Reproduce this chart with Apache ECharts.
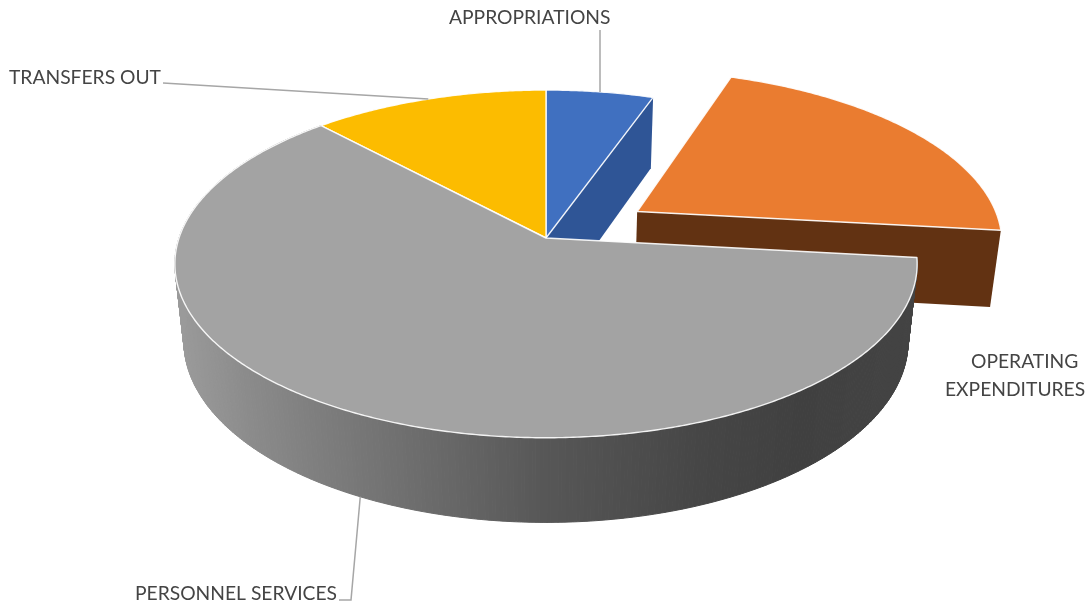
<!DOCTYPE html>
<html>
<head>
<meta charset="utf-8">
<style>html,body{margin:0;padding:0;background:#fff}#chart{width:1090px;height:605px}</style>
<script src="https://cdn.jsdelivr.net/npm/echarts@6/dist/echarts.min.js"></script>
</head>
<body>
<div id="chart"></div>
<script>
// ---- data (share of total, %) ----
const categories = ['APPROPRIATIONS', 'OPERATING\nEXPENDITURES', 'PERSONNEL SERVICES', 'TRANSFERS OUT'];
const shares = [5.4, 21.4, 61.3, 11.9];
const explode = [0, 0.3, 0, 0];

// ---- styles and layout ----
const topColors = ['#4070c0', '#ea7c30', '#a3a3a3', '#fcbc00'];
const wallColors = ['#2f5596', '#623212', null, null];
const paintRank = [1, 1, 3, 2];
const labelLines = [
  [[449, 18]],
  [[971, 362], [945, 390]],
  [[135, 594]],
  [[9, 78]]
];
const leaderRoutes = [
  [[600, 30]],
  null,
  [[339, 600], [351, 600]],
  [[163, 83]]
];
const leaderOnWall = [false, false, true, false];
const wallShade = [[175, 156], [250, 139], [360, 119], [546, 87], [700, 70], [800, 64], [917, 68]];

// perspective model of the pie's disc
const P = { cx: 546, cy: 238, ax: 367, ay: 170, k: 0.149, lift: 79, c: 0.0245 };
function upper(u, v) {
  const w = 1 + P.k * v;
  return [P.cx + P.ax * u / w, P.cy - P.ay * v / w];
}
function lower(u, v) {
  const w = 1 + P.k * v + P.c;
  return [P.cx + P.ax * u / w, P.cy + (P.lift - P.ay * v) / w];
}
function shadeAt(x) {
  for (let i = 1; i < wallShade.length; i++) {
    if (x <= wallShade[i][0]) {
      const a = wallShade[i - 1], b = wallShade[i];
      const g = Math.round(a[1] + (b[1] - a[1]) * (x - a[0]) / (b[0] - a[0]));
      return 'rgb(' + g + ',' + g + ',' + g + ')';
    }
  }
  return 'rgb(68,68,68)';
}

const total = shares.reduce((s, v) => s + v, 0);
const spans = [];
shares.reduce((acc, v, i) => {
  spans[i] = [acc / total * 2 * Math.PI, (acc + v) / total * 2 * Math.PI];
  return acc + v;
}, 0);

function renderItem(params, api) {
  const i = params.dataIndex;
  const a0 = spans[i][0], a1 = spans[i][1], mid = (a0 + a1) / 2;
  const dx = explode[i] * Math.sin(mid), dy = explode[i] * Math.cos(mid);
  const at = (fn, a, r) => fn(dx + (r === undefined ? 1 : r) * Math.sin(a), dy + (r === undefined ? 1 : r) * Math.cos(a));
  const z = paintRank[i] * 10;
  const children = [];
  const step = Math.PI / 360;
  const n = Math.ceil((a1 - a0) / step);

  // side walls
  if (wallColors[i]) {
    children.push({ type: 'polygon', z2: z, shape: { points: [at(upper, a1, 0), at(upper, a1), at(lower, a1), at(lower, a1, 0)] }, style: { fill: wallColors[i] } });
  }
  if (i === 2) {
    for (let s = 0; s < n; s++) {
      const b0 = a0 + (a1 - a0) * s / n, b1 = a0 + (a1 - a0) * (s + 1) / n;
      const p0 = at(upper, b0), p1 = at(upper, b1), q1 = at(lower, b1), q0 = at(lower, b0);
      const col = shadeAt((p0[0] + q0[0]) / 2);
      children.push({ type: 'polygon', z2: z, shape: { points: [p0, p1, q1, q0] }, style: { fill: col, stroke: col, lineWidth: 1 } });
    }
  }

  // top face
  const pts = [at(upper, a0, 0)];
  for (let s = 0; s <= n; s++) pts.push(at(upper, a0 + (a1 - a0) * s / n));
  children.push({
    type: 'polygon', z2: z + 1, shape: { points: pts },
    style: { fill: topColors[i], stroke: 'rgba(255,255,255,0.9)', lineWidth: 1.4, lineJoin: 'round' }
  });

  // leader line
  if (leaderRoutes[i]) {
    const end = at(leaderOnWall[i] ? lower : upper, mid);
    children.push({
      type: 'polyline', z2: 50,
      shape: { points: leaderRoutes[i].concat([end]) },
      style: { fill: null, stroke: '#a6a6a6', lineWidth: 1.5 }
    });
  }

  // label
  categories[i].split('\n').forEach((line, j) => {
    children.push({
      type: 'text', z2: 60,
      style: {
        text: line, x: labelLines[i][j][0], y: labelLines[i][j][1],
        fill: '#444444', font: '400 19.25px Lato, "Open Sans", sans-serif',
        textAlign: 'left', textVerticalAlign: 'middle'
      }
    });
  });
  return { type: 'group', children };
}

const chart = echarts.init(document.getElementById('chart'), null, { renderer: 'canvas' });
chart.setOption({
  animation: false,
  backgroundColor: '#ffffff',
  series: [{
    type: 'custom',
    coordinateSystem: 'none',
    silent: true,
    renderItem,
    data: shares.map((v, i) => ({ name: categories[i], value: v }))
  }]
});
</script>
</body>
</html>
